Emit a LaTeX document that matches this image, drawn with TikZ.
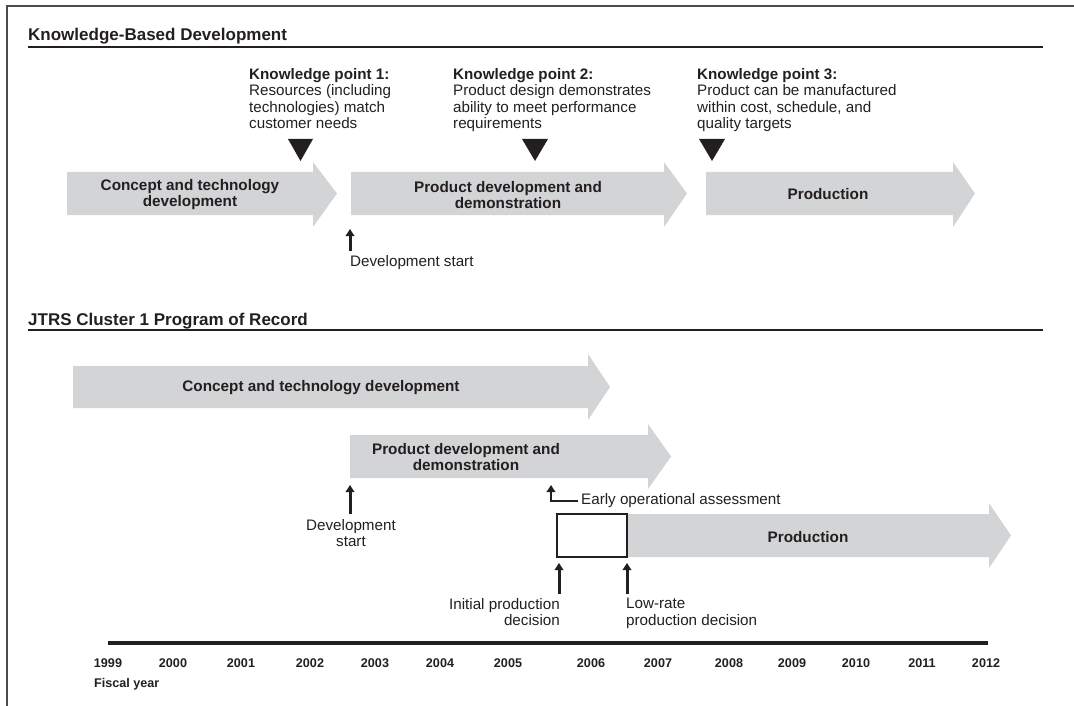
\documentclass[tikz,border=0pt]{standalone}
\usepackage{fontspec}
\setmainfont{Liberation Sans}
\usetikzlibrary{arrows.meta}
\definecolor{barfill}{RGB}{211,212,214}
\definecolor{ink}{RGB}{35,31,32}
\newcommand\myblockarrow[7]{%
  \fill[barr] (#1,#4) -- (#2,#4) -- (#2,#6) -- (#3,{(#4+#5)/2}) -- (#2,#7) -- (#2,#5) -- (#1,#5) -- cycle;}
\begin{document}
\begin{tikzpicture}[x=1pt,y=-1pt,
  txt/.style={inner sep=0pt, text=ink, font=\fontsize{15.2}{16.5}\selectfont},
  btxt/.style={inner sep=0pt, text=ink, font=\fontsize{15.3}{16}\selectfont\bfseries, align=center},
  hdr/.style={inner sep=0pt, text=ink, font=\fontsize{17}{19}\selectfont\bfseries, anchor=base west},
  yr/.style={inner sep=0pt, text=ink, font=\fontsize{12.6}{14}\selectfont\bfseries},
  barr/.style={fill=barfill, draw=none},
  uparr/.style={draw=ink, line width=3pt, -{Triangle[length=7pt,width=8.5pt]}},
  kp/.style={fill=ink, draw=none},
  rule/.style={draw=ink, line width=2pt}
]
\useasboundingbox (0,0) rectangle (1074,706);
% frame
\draw[draw=gray!60!black, line width=1.8pt] (7,706) -- (7,6) -- (1074,6);

% ---------- Knowledge-based development ----------
\node[hdr] (h1) at (28,41) {Knowledge-Based Development};
\draw[rule] (28,47) -- (1043,47);

\myblockarrow{67}{313}{337}{172}{215}{162}{227}
\myblockarrow{351}{664}{687}{172}{215}{162}{227}
\myblockarrow{706}{953}{975}{172}{215}{162}{227}

\node[btxt] (a1) at (190,195) {Concept and technology\\development};
\node[btxt] (a2) at (508,195) {Product development and\\demonstration};
\node[btxt] (a3) at (828,194) {Production};

\fill[kp] (288,139) -- (313,139) -- (300.5,161) -- cycle;
\fill[kp] (522,139) -- (548,139) -- (535,161) -- cycle;
\fill[kp] (699,139) -- (725,139) -- (712,161) -- cycle;

\node[txt, anchor=north west, align=left] (kp1) at (249,68) {\textbf{Knowledge point 1:}\\Resources (including\\technologies) match\\customer needs};
\node[txt, anchor=north west, align=left] (kp2) at (453,68) {\textbf{Knowledge point 2:}\\Product design demonstrates\\ability to meet performance\\requirements};
\node[txt, anchor=north west, align=left] (kp3) at (697,68) {\textbf{Knowledge point 3:}\\Product can be manufactured\\within cost, schedule, and\\quality targets};

\node[txt, anchor=west] (ds) at (350,263) {Development start};
\coordinate (dsb) at (350,251);
\coordinate (dst) at (350,229);
\draw[uparr] (dsb) -- (dst);

% ---------- JTRS Cluster 1 ----------
\node[hdr] (h2) at (28,325) {JTRS Cluster 1 Program of Record};
\draw[rule] (28,330) -- (1043,330);

\myblockarrow{73}{588}{610}{366}{408}{354}{420}
\myblockarrow{350}{648}{671}{435}{478}{424}{489}
\myblockarrow{627}{989}{1011}{514}{557}{503}{568}
\draw[draw=ink, line width=2pt, fill=white] (557,514) rectangle (627,557);

\node[btxt] (b1) at (321,388) {Concept and technology development};
\node[btxt] (b2) at (466,457) {Product development and\\demonstration};
\node[btxt] (b3) at (808,537) {Production};

% development start
\node[txt, align=center, anchor=north] (ds2) at (351,519) {Development\\start};
\coordinate (ds2b) at (350,514);
\coordinate (ds2t) at (350,485);
\draw[uparr] (ds2b) -- (ds2t);

% early operational assessment
\node[txt, anchor=west] (eoa) at (581,501) {Early operational assessment};
\coordinate (eoat) at (551,485);
\draw[uparr, line width=2.6pt] ([xshift=-3pt]eoa.west) -| (eoat);

% decisions
\node[txt, align=right, anchor=north east] (ipd) at (560,598) {Initial production\\decision};
\node[txt, align=left, anchor=north west] (lrd) at (626,598) {Low-rate\\production decision};
\coordinate (ipdb) at (559,594);
\coordinate (ipdt) at (559,563);
\coordinate (lrdb) at (627,594);
\coordinate (lrdt) at (627,563);
\draw[uparr] (ipdb) -- (ipdt);
\draw[uparr] (lrdb) -- (lrdt);

% timeline
\draw[draw=ink, line width=4pt] (108,643) -- (988,643);
\foreach \yy/\xx in {1999/108, 2000/173, 2001/241, 2002/310, 2003/375, 2004/440, 2005/508,
                     2006/591, 2007/658, 2008/729, 2009/792, 2010/856, 2011/922, 2012/986}
  \node[yr] (y\yy) at (\xx,663) {\yy};
\node[yr, anchor=west] (fy) at (94,684) {Fiscal year};
\end{tikzpicture}
\end{document}
